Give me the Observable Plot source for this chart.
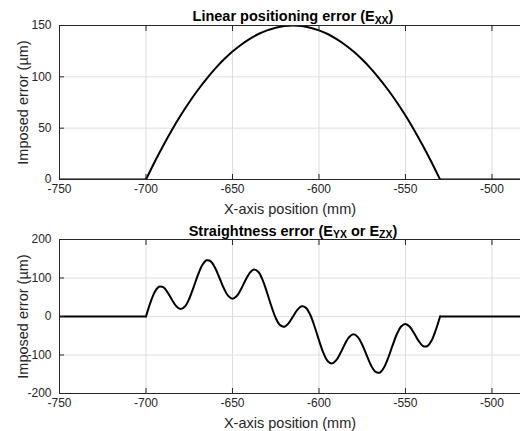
<!DOCTYPE html>
<html>
<head>
<meta charset="utf-8">
<script src="https://cdn.jsdelivr.net/npm/d3@7"></script>
<script src="https://cdn.jsdelivr.net/npm/@observablehq/plot@0.6"></script>
<style>
  html, body { margin: 0; padding: 0; background: white; }
  #wrap { position: relative; width: 520px; height: 431px; overflow: hidden; font-family: "Liberation Sans", Arial, Helvetica, sans-serif; color: #262626; }
  .panel { position: absolute; left: 0; }
  .title { position: absolute; left: 59px; width: 468px; text-align: center; font-weight: bold; font-size: 14.5px; line-height: 14px; color: #000; white-space: nowrap; }
  .title .s { font-size: 0.72em; position: relative; top: 0.28em; }
</style>
</head>
<body>
<div id="wrap">
  <div class="title" id="t1" style="top:9px">Linear positioning error (E<span class="s">XX</span>)</div>
  <div class="title" id="t2" style="top:223.5px">Straightness error (E<span class="s">YX</span> or E<span class="s">ZX</span>)</div>
</div>
<script>
// ---- data ----
const xTicks = [-750, -700, -650, -600, -550, -500];
const yTicksTop = [0, 50, 100, 150];
const yTicksBottom = [-200, -100, 0, 100, 200];

// Linear positioning error (E_XX): position (mm) and error (µm)
const exxPos = [-700, -695, -690, -685, -680, -675, -670, -665, -660, -655, -650, -645, -640, -635, -630, -625, -620, -615,
                -610, -605, -600, -595, -590, -585, -580, -575, -570, -565, -560, -555, -550, -545, -540, -535, -530];
const exxErr = [0, 17.1, 33.2, 48.3, 62.3, 75.3, 87.2, 98.1, 108.0, 116.8, 124.6, 131.3, 137.0, 141.7, 145.3, 147.9, 149.5, 150,
                149.5, 147.9, 145.3, 141.7, 137.0, 131.3, 124.6, 116.8, 108.0, 98.1, 87.2, 75.3, 62.3, 48.3, 33.2, 17.1, 0];

// Straightness error (E_YX or E_ZX)
const eyxPos = [-700, -697.5, -695, -692.5, -690, -687.5, -685, -682.5, -680, -677.5, -675, -672.5, -670, -667.5, -665, -662.5,
                -660, -657.5, -655, -652.5, -650, -647.5, -645, -642.5, -640, -637.5, -635, -632.5, -630, -627.5, -625, -622.5,
                -620, -617.5, -615, -612.5, -610, -607.5, -605, -602.5, -600, -597.5, -595, -592.5, -590, -587.5, -585, -582.5,
                -580, -577.5, -575, -572.5, -570, -567.5, -565, -562.5, -560, -557.5, -555, -552.5, -550, -547.5, -545, -542.5,
                -540, -537.5, -535, -532.5, -530];
const eyxErr = [0, 35.5, 63.2, 77.2, 76.0, 62.7, 43.4, 26.6, 19.3, 25.8, 46.1, 75.8, 107.6, 133.1, 146.0, 143.1,
                125.9, 100, 73.3, 53.5, 46.4, 53.3, 71.4, 94.2, 113.5, 122.0, 115.5, 94.0, 61.8, 26.5, -3.8, -22.4,
                -26.4, -17.1, 0, 17.1, 26.4, 22.4, 3.8, -26.5, -61.8, -94.0, -115.5, -122.0, -113.5, -94.2, -71.4, -53.3,
                -46.4, -53.5, -73.3, -100, -125.9, -143.1, -146.0, -133.1, -107.6, -75.8, -46.1, -25.8, -19.3, -26.6,
                -43.4, -62.7, -76.0, -77.2, -63.2, -35.5, 0];

// flat (zero) parts before and after the imposed error zone
const flatLeft = [-750, -700];
const flatRight = [-530, -480];

const xDomain = [-750, -483.5];

function rowsFor(pos, err) {
  const rows = [];
  flatLeft.forEach(x => rows.push({x, y: 0, seg: "a"}));
  pos.forEach((x, i) => rows.push({x, y: err[i], seg: "b"}));
  flatRight.forEach(x => rows.push({x, y: 0, seg: "c"}));
  return rows;
}

const axisColor = "#262626";
const gridColor = "#dedede";

function panel({rows, yDomain, yTicks, height, marginTop, marginBottom}) {
  return Plot.plot({
    width: 520,
    height,
    marginLeft: 59,
    marginRight: 0,
    marginTop,
    marginBottom,
    x: {domain: xDomain},
    y: {domain: yDomain},
    style: {fontFamily: '"Liberation Sans", Arial, Helvetica, sans-serif', fontSize: "12px", color: axisColor, background: "transparent", overflow: "visible"},
    marks: [
      Plot.gridX(xTicks, {stroke: gridColor, strokeOpacity: 1}),
      Plot.gridY(yTicks, {stroke: gridColor, strokeOpacity: 1}),
      Plot.line(rows, {x: "x", y: "y", z: "seg", stroke: "black", strokeWidth: 2, curve: "catmull-rom", clip: true}),
      Plot.ruleY(yDomain, {stroke: axisColor, strokeWidth: 1}),
      Plot.ruleX([xDomain[0]], {stroke: axisColor, strokeWidth: 1}),
      Plot.axisX(xTicks, {anchor: "bottom", tickSize: -5, tickPadding: 10, tickFormat: d => String(d), fontSize: 12, label: null, stroke: axisColor}),
      Plot.axisX(xTicks, {anchor: "top", tickSize: -5, tickFormat: () => "", label: null, stroke: axisColor}),
      Plot.axisY(yTicks, {anchor: "left", tickSize: -5, tickPadding: 13, tickFormat: d => String(d), fontSize: 12, label: null, stroke: axisColor}),
      Plot.text(["X-axis position (mm)"], {frameAnchor: "bottom", dy: 24.5, lineAnchor: "top", textAnchor: "middle", fontSize: 14.5, fill: axisColor}),
      Plot.text(["Imposed error (µm)"], {frameAnchor: "left", dx: -36, rotate: -90, lineAnchor: "middle", textAnchor: "middle", fontSize: 14.5, fill: axisColor})
    ]
  });
}

const topPanel = panel({rows: rowsFor(exxPos, exxErr), yDomain: [0, 150], yTicks: yTicksTop, height: 215, marginTop: 25, marginBottom: 36});
const bottomPanel = panel({rows: rowsFor(eyxPos, eyxErr), yDomain: [-200, 200], yTicks: yTicksBottom, height: 216, marginTop: 24, marginBottom: 38});

const wrap = document.getElementById("wrap");
topPanel.classList.add("panel"); topPanel.style.top = "0px";
bottomPanel.classList.add("panel"); bottomPanel.style.top = "215px";
wrap.insertBefore(bottomPanel, wrap.firstChild);
wrap.insertBefore(topPanel, wrap.firstChild);
</script>
</body>
</html>
